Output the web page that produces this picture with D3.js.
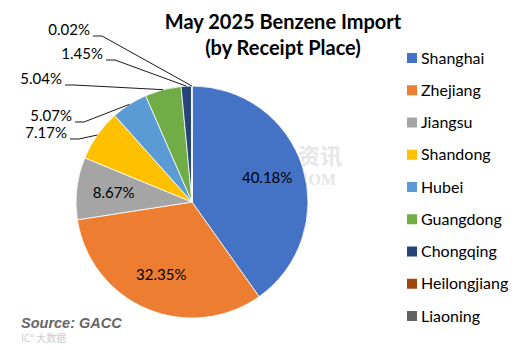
<!DOCTYPE html>
<html>
<head>
<meta charset="utf-8">
<script src="https://cdn.jsdelivr.net/npm/d3@7"></script>
<style>
  body { margin: 0; background: #fff; }
  svg { display: block; }
</style>
</head>
<body>
<svg width="528" height="350"></svg>
<script>
// chart data
var places = ["Shanghai", "Zhejiang", "Jiangsu", "Shandong", "Hubei", "Guangdong", "Chongqing", "Heilongjiang", "Liaoning"];
var shares = [40.18, 32.35, 8.67, 7.17, 5.07, 5.04, 1.45, 0.03, 0.02];
var shareLabels = ["40.18%", "32.35%", "8.67%", "7.17%", "5.07%", "5.04%", "1.45%", null, "0.02%"];
var colors = ["#4472C4", "#ED7D31", "#A5A5A5", "#FFC000", "#5B9BD5", "#70AD47", "#264478", "#9E480E", "#636363"];

// where the outside labels sit (text end point), Excel-style
var outside = {
  "Shandong":  { x: 67, y: 139 },
  "Hubei":     { x: 72, y: 122 },
  "Guangdong": { x: 62, y: 85 },
  "Chongqing": { x: 103, y: 60 },
  "Liaoning":  { x: 90, y: 36 }
};

var svg = d3.select("svg");
var font = "Lato, 'Open Sans', sans-serif";

var cx = 192, cy = 202, r = 116;

var pie = d3.pie().sort(null).value(function(d) { return d.v; });
var arc = d3.arc().innerRadius(0).outerRadius(r);
var data = places.map(function(p, i) { return { name: p, v: shares[i], label: shareLabels[i], color: colors[i] }; });
var arcs = pie(data);

// faint watermark
var wm = svg.append("g").attr("fill", "#e6e6e6").attr("font-family", "'Noto Sans CJK SC', sans-serif");
wm.append("text").attr("x", 298).attr("y", 164).attr("font-size", 22).attr("font-weight", "bold").text("资讯");
wm.append("text").attr("x", 297).attr("y", 185).attr("font-size", 16).attr("font-weight", "bold")
  .attr("font-family", "'Liberation Serif', serif").text("COM");

var g = svg.append("g").attr("transform", "translate(" + cx + "," + cy + ")");

g.selectAll("path.slice")
  .data(arcs)
  .enter().append("path")
  .attr("class", "slice")
  .attr("d", arc)
  .attr("fill", function(d) { return d.data.color; })
  .attr("stroke", "#fff")
  .attr("stroke-width", 0.8);

// labels inside the big slices
var inner = d3.arc().innerRadius(r * 0.68).outerRadius(r * 0.68);
g.selectAll("text.in")
  .data(arcs.filter(function(d) { return d.data.label && !outside[d.data.name]; }))
  .enter().append("text")
  .attr("class", "in")
  .attr("transform", function(d) { return "translate(" + inner.centroid(d) + ")"; })
  .attr("text-anchor", "middle")
  .attr("dy", "0.35em")
  .attr("font-family", font)
  .attr("font-size", 15)
  .attr("fill", "#000")
  .text(function(d) { return d.data.label; });

// outside labels with leader lines
var edge = d3.arc().innerRadius(r).outerRadius(r);
var outs = arcs.filter(function(d) { return d.data.label && outside[d.data.name]; });

svg.selectAll("path.leader")
  .data(outs)
  .enter().append("path")
  .attr("class", "leader")
  .attr("fill", "none")
  .attr("stroke", "#000")
  .attr("stroke-width", 0.9)
  .attr("d", function(d) {
    var p = edge.centroid(d);
    var o = outside[d.data.name];
    return "M" + (o.x + 3) + "," + o.y + "H" + (o.x + 12) + "L" + (cx + p[0]) + "," + (cy + p[1]);
  });

svg.selectAll("text.out")
  .data(outs)
  .enter().append("text")
  .attr("class", "out")
  .attr("x", function(d) { return outside[d.data.name].x; })
  .attr("y", function(d) { return outside[d.data.name].y; })
  .attr("dy", "-0.05em")
  .attr("text-anchor", "end")
  .attr("font-family", font)
  .attr("font-size", 15)
  .text(function(d) { return d.data.label; });

// title
var title = svg.append("text")
  .attr("text-anchor", "middle")
  .attr("font-family", font)
  .attr("font-weight", "bold")
  .attr("font-size", 20);
title.append("tspan").attr("x", 283).attr("y", 29).text("May 2025 Benzene Import");
title.append("tspan").attr("x", 283).attr("y", 55).text("(by Receipt Place)");

// legend
var legend = svg.append("g").attr("transform", "translate(407,58)");
var item = legend.selectAll("g")
  .data(data)
  .enter().append("g")
  .attr("transform", function(d, i) { return "translate(0," + (i * 32.25) + ")"; });
item.append("rect").attr("x", 0).attr("y", -5).attr("width", 10).attr("height", 10)
  .attr("fill", function(d) { return d.color; });
item.append("text").attr("x", 14).attr("dy", "0.35em")
  .attr("font-family", font).attr("font-size", 16).attr("fill", "#000")
  .text(function(d) { return d.name; });

// source note
svg.append("text")
  .attr("x", 21).attr("y", 328)
  .attr("font-family", "'Liberation Sans', Arial, sans-serif")
  .attr("font-weight", "bold").attr("font-style", "italic")
  .attr("font-size", 14.5).attr("fill", "#666")
  .text("Source: GACC");
svg.append("text")
  .attr("x", 21).attr("y", 342)
  .attr("font-family", "'Noto Sans CJK SC', sans-serif")
  .attr("font-size", 10).attr("fill", "#ccc")
  .text("IC\u00B0 大数据");
</script>
</body>
</html>
